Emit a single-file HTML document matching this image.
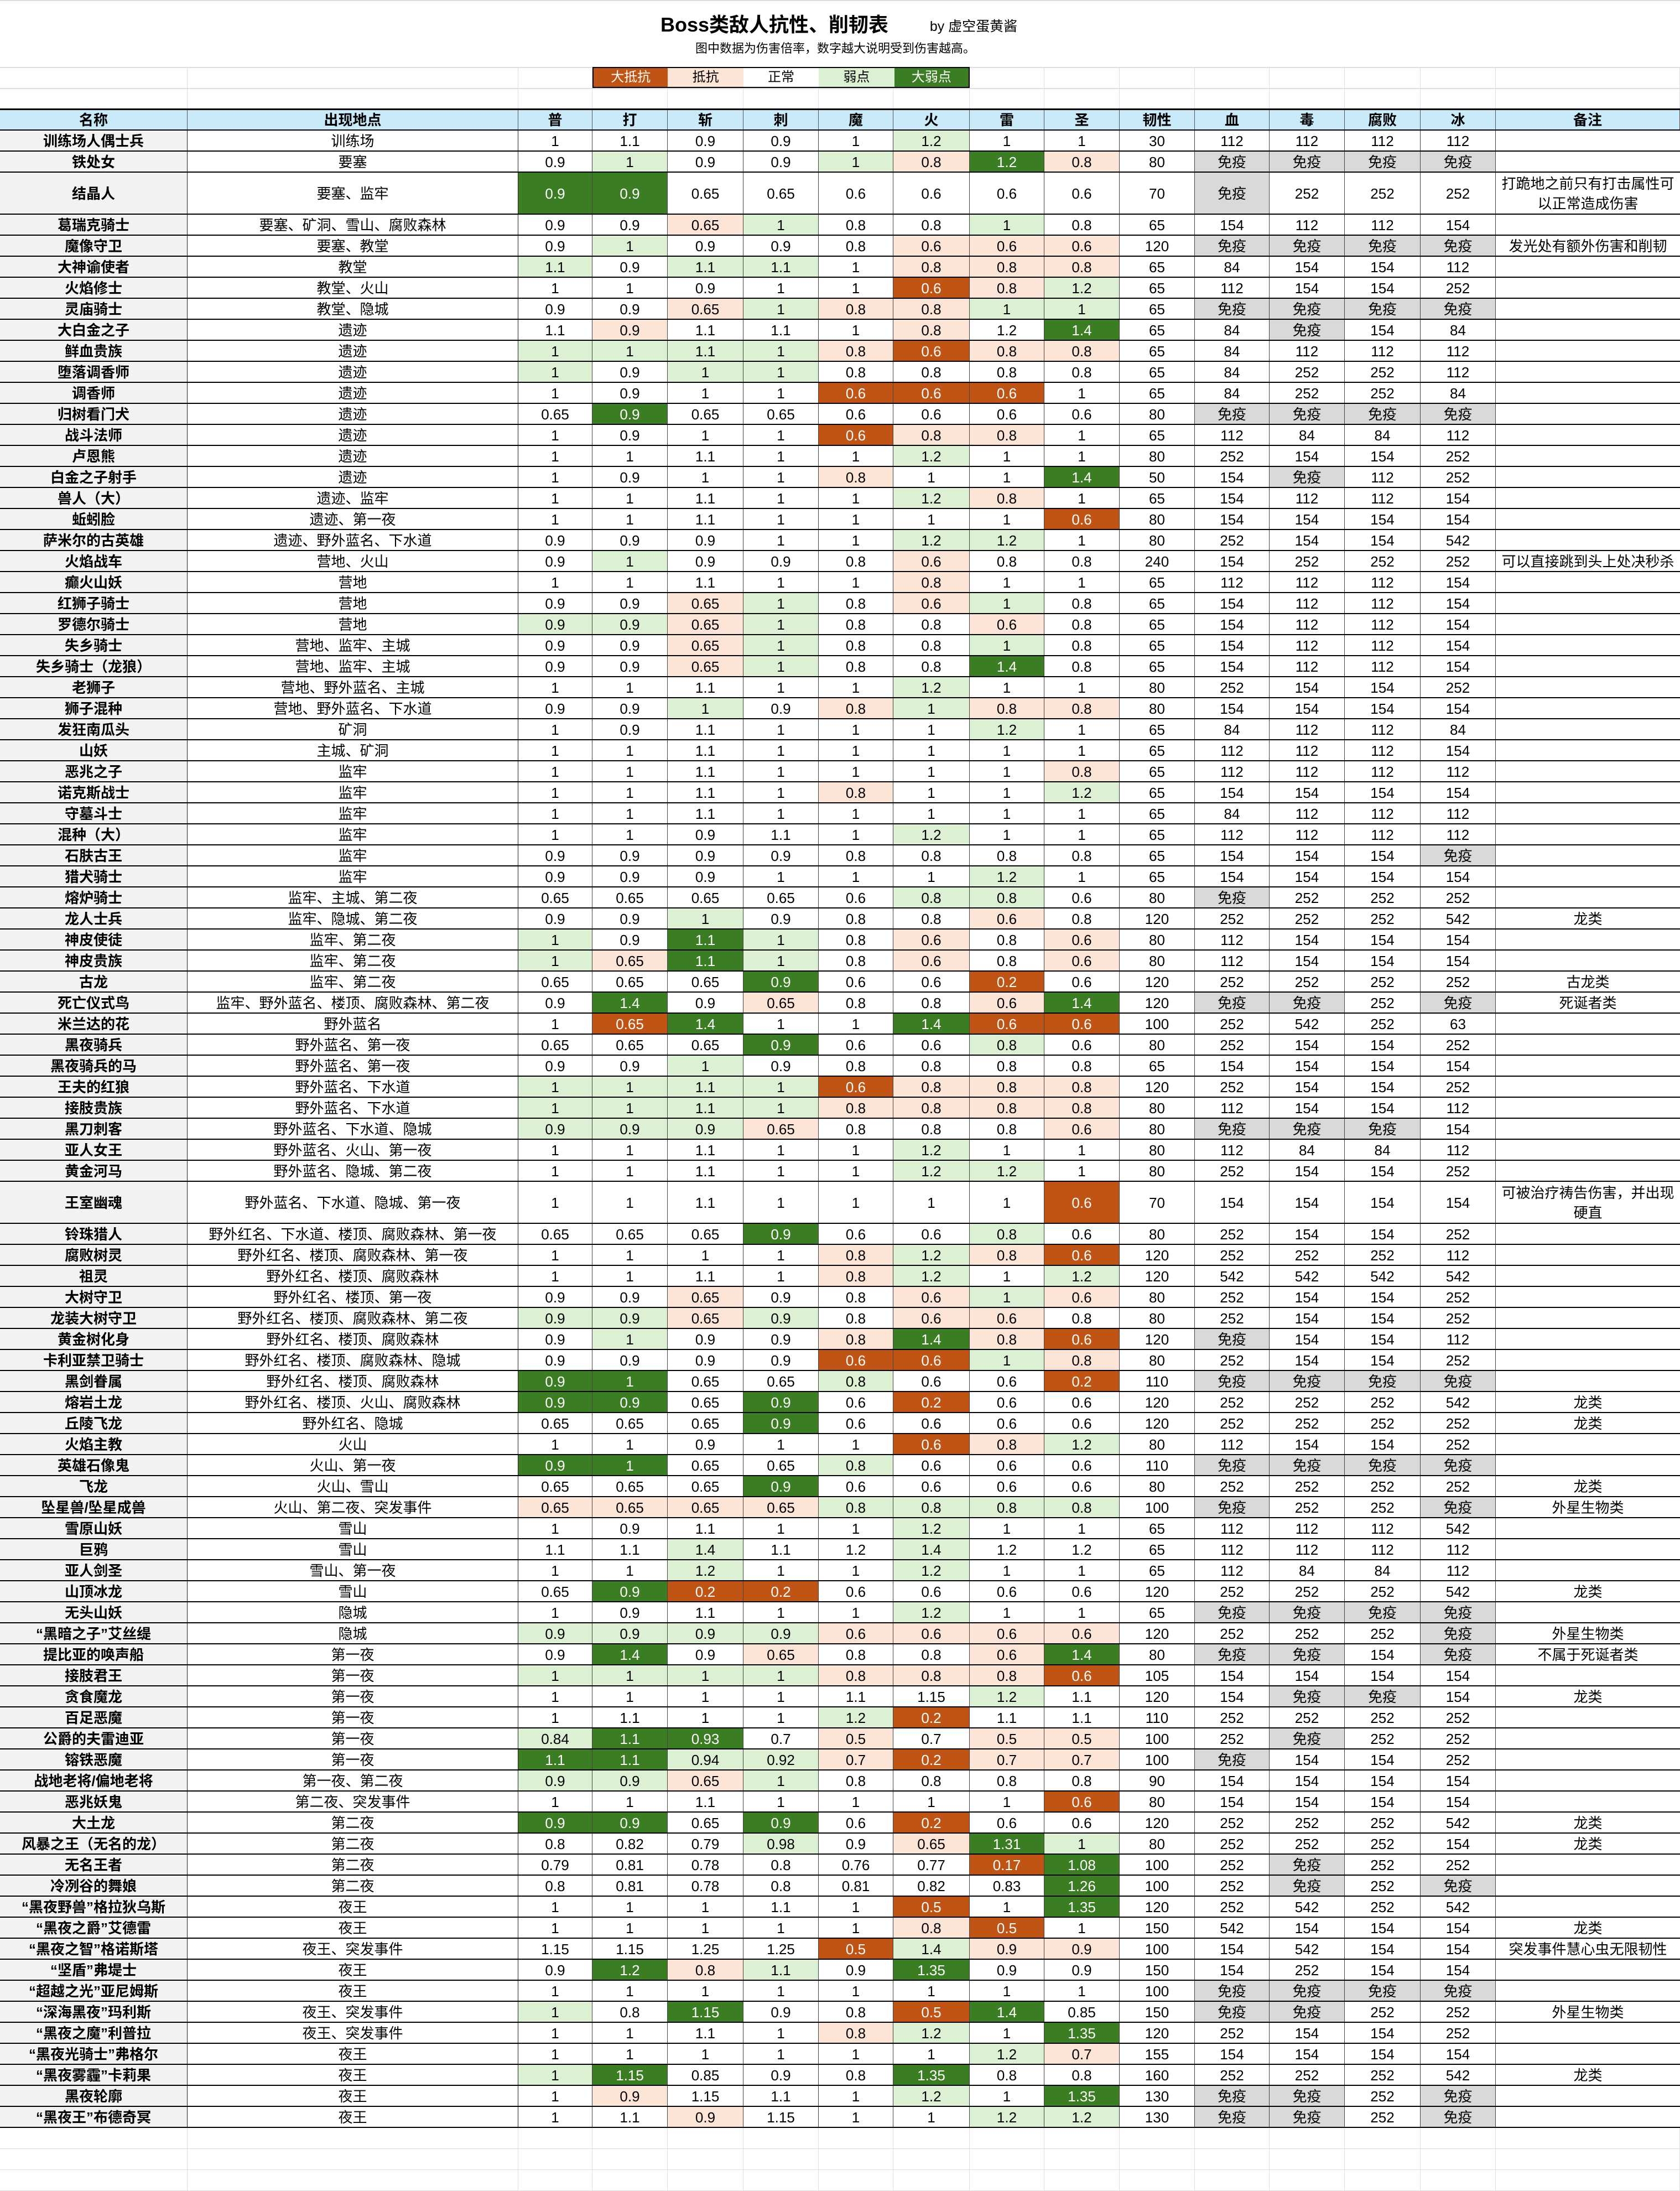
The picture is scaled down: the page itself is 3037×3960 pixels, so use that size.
<!DOCTYPE html>
<html><head><meta charset="utf-8">
<style>
*{margin:0;padding:0;box-sizing:border-box}
body{width:3037px;height:3960px;background:#fff;position:relative;overflow:hidden;font-family:"Liberation Sans","Noto Sans CJK SC",sans-serif;color:#000}
.c{position:absolute;display:flex;align-items:center;justify-content:center;text-align:center;font-size:26px;line-height:30px;overflow:hidden}
.gl{position:absolute;background:#dedede}
</style></head>
<body>
<div class="c" style="left:1150px;top:20px;width:500px;height:50px;font-size:36px;font-weight:bold">Boss类敌人抗性、削韧表</div>
<div class="c" style="left:1660px;top:28px;width:200px;height:40px;font-size:25px">by 虚空蛋黄酱</div>
<div class="c" style="left:1200px;top:72px;width:620px;height:32px;font-size:22px">图中数据为伤害倍率，数字越大说明受到伤害越高。</div>
<div id="root"></div>
<script>
const cols=[0,339,937,1071,1207,1344,1480,1615,1753,1888,2024,2160,2295,2431,2568,2704,3037];
const headers=["名称","出现地点","普","打","斩","刺","魔","火","雷","圣","韧性","血","毒","腐败","冰","备注"];
const legendLabels=["大抵抗","抵抗","正常","弱点","大弱点"];
const colorMap={"0":"#ffffff","p":"#fce4d6","g":"#dcf1d3","G":"#3a7d22","O":"#c05414"};
const rows=[
"训练场人偶士兵|训练场|1 1.1 0.9 0.9 1 1.2 1 1|00000g00|30|112 112 112 112||1",
"铁处女|要塞|0.9 1 0.9 0.9 1 0.8 1.2 0.8|0g00gpGp|80|免疫 免疫 免疫 免疫||1",
"结晶人|要塞、监牢|0.9 0.9 0.65 0.65 0.6 0.6 0.6 0.6|GG000000|70|免疫 252 252 252|打跪地之前只有打击属性可以正常造成伤害|2",
"葛瑞克骑士|要塞、矿洞、雪山、腐败森林|0.9 0.9 0.65 1 0.8 0.8 1 0.8|00pg00g0|65|154 112 112 154||1",
"魔像守卫|要塞、教堂|0.9 1 0.9 0.9 0.8 0.6 0.6 0.6|0g000ppp|120|免疫 免疫 免疫 免疫|发光处有额外伤害和削韧|1",
"大神谕使者|教堂|1.1 0.9 1.1 1.1 1 0.8 0.8 0.8|g0gg0ppp|65|84 154 154 112||1",
"火焰修士|教堂、火山|1 1 0.9 1 1 0.6 0.8 1.2|00000Opg|65|112 154 154 252||1",
"灵庙骑士|教堂、隐城|0.9 0.9 0.65 1 0.8 0.8 1 1|00pgppgg|65|免疫 免疫 免疫 免疫||1",
"大白金之子|遗迹|1.1 0.9 1.1 1.1 1 0.8 1.2 1.4|0p000p0G|65|84 免疫 154 84||1",
"鲜血贵族|遗迹|1 1 1.1 1 0.8 0.6 0.8 0.8|ggggpOpp|65|84 112 112 112||1",
"堕落调香师|遗迹|1 0.9 1 1 0.8 0.8 0.8 0.8|g0gg0000|65|84 252 252 112||1",
"调香师|遗迹|1 0.9 1 1 0.6 0.6 0.6 1|0000OOO0|65|84 252 252 84||1",
"归树看门犬|遗迹|0.65 0.9 0.65 0.65 0.6 0.6 0.6 0.6|0G000000|80|免疫 免疫 免疫 免疫||1",
"战斗法师|遗迹|1 0.9 1 1 0.6 0.8 0.8 1|0000Opp0|65|112 84 84 112||1",
"卢恩熊|遗迹|1 1 1.1 1 1 1.2 1 1|00000g00|80|252 154 154 252||1",
"白金之子射手|遗迹|1 0.9 1 1 0.8 1 1 1.4|0000p00G|50|154 免疫 112 252||1",
"兽人（大）|遗迹、监牢|1 1 1.1 1 1 1.2 0.8 1|00000gp0|65|154 112 112 154||1",
"蚯蚓脸|遗迹、第一夜|1 1 1.1 1 1 1 1 0.6|0000000O|80|154 154 154 154||1",
"萨米尔的古英雄|遗迹、野外蓝名、下水道|0.9 0.9 0.9 1 1 1.2 1.2 1|00000gg0|80|252 154 154 542||1",
"火焰战车|营地、火山|0.9 1 0.9 0.9 0.8 0.6 0.8 0.8|0g000p00|240|154 252 252 252|可以直接跳到头上处决秒杀|1",
"癫火山妖|营地|1 1 1.1 1 1 0.8 1 1|00000p00|65|112 112 112 154||1",
"红狮子骑士|营地|0.9 0.9 0.65 1 0.8 0.6 1 0.8|00pg0pg0|65|154 112 112 154||1",
"罗德尔骑士|营地|0.9 0.9 0.65 1 0.8 0.8 0.6 0.8|ggpg00p0|65|154 112 112 154||1",
"失乡骑士|营地、监牢、主城|0.9 0.9 0.65 1 0.8 0.8 1 0.8|00pg00g0|65|154 112 112 154||1",
"失乡骑士（龙狼）|营地、监牢、主城|0.9 0.9 0.65 1 0.8 0.8 1.4 0.8|00pg00G0|65|154 112 112 154||1",
"老狮子|营地、野外蓝名、主城|1 1 1.1 1 1 1.2 1 1|00000g00|80|252 154 154 252||1",
"狮子混种|营地、野外蓝名、下水道|0.9 0.9 1 0.9 0.8 1 0.8 0.8|00g0pgpp|80|154 154 154 154||1",
"发狂南瓜头|矿洞|1 0.9 1.1 1 1 1 1.2 1|000000g0|65|84 112 112 84||1",
"山妖|主城、矿洞|1 1 1.1 1 1 1 1 1|00000000|65|112 112 112 154||1",
"恶兆之子|监牢|1 1 1.1 1 1 1 1 0.8|0000000p|65|112 112 112 112||1",
"诺克斯战士|监牢|1 1 1.1 1 0.8 1 1 1.2|0000p00g|65|154 154 154 154||1",
"守墓斗士|监牢|1 1 1.1 1 1 1 1 1|00000000|65|84 112 112 112||1",
"混种（大）|监牢|1 1 0.9 1.1 1 1.2 1 1|00000g00|65|112 112 112 112||1",
"石肤古王|监牢|0.9 0.9 0.9 0.9 0.8 0.8 0.8 0.8|00000000|65|154 154 154 免疫||1",
"猎犬骑士|监牢|0.9 0.9 0.9 1 1 1 1.2 1|000000g0|65|154 154 154 154||1",
"熔炉骑士|监牢、主城、第二夜|0.65 0.65 0.65 0.65 0.6 0.8 0.8 0.6|00000gg0|80|免疫 252 252 252||1",
"龙人士兵|监牢、隐城、第二夜|0.9 0.9 1 0.9 0.8 0.8 0.6 0.8|00g000p0|120|252 252 252 542|龙类|1",
"神皮使徒|监牢、第二夜|1 0.9 1.1 1 0.8 0.6 0.8 0.6|g0Gg0p0p|80|112 154 154 154||1",
"神皮贵族|监牢、第二夜|1 0.65 1.1 1 0.8 0.6 0.8 0.6|gpGg0p0p|80|112 154 154 154||1",
"古龙|监牢、第二夜|0.65 0.65 0.65 0.9 0.6 0.6 0.2 0.6|000G00O0|120|252 252 252 252|古龙类|1",
"死亡仪式鸟|监牢、野外蓝名、楼顶、腐败森林、第二夜|0.9 1.4 0.9 0.65 0.8 0.8 0.6 1.4|0G0p00pG|120|免疫 免疫 252 免疫|死诞者类|1",
"米兰达的花|野外蓝名|1 0.65 1.4 1 1 1.4 0.6 0.6|0OG00GOO|100|252 542 252 63||1",
"黑夜骑兵|野外蓝名、第一夜|0.65 0.65 0.65 0.9 0.6 0.6 0.8 0.6|000G00g0|80|252 154 154 252||1",
"黑夜骑兵的马|野外蓝名、第一夜|0.9 0.9 1 0.9 0.8 0.8 0.8 0.8|00g00000|65|154 154 154 154||1",
"王夫的红狼|野外蓝名、下水道|1 1 1.1 1 0.6 0.8 0.8 0.8|ggggOppp|120|252 154 154 252||1",
"接肢贵族|野外蓝名、下水道|1 1 1.1 1 0.8 0.8 0.8 0.8|ggggpppp|80|112 154 154 112||1",
"黑刀刺客|野外蓝名、下水道、隐城|0.9 0.9 0.9 0.65 0.8 0.8 0.8 0.6|gggp000p|80|免疫 免疫 免疫 154||1",
"亚人女王|野外蓝名、火山、第一夜|1 1 1.1 1 1 1.2 1 1|00000g00|80|112 84 84 112||1",
"黄金河马|野外蓝名、隐城、第二夜|1 1 1.1 1 1 1.2 1.2 1|00000gg0|80|252 154 154 252||1",
"王室幽魂|野外蓝名、下水道、隐城、第一夜|1 1 1.1 1 1 1 1 0.6|0000000O|70|154 154 154 154|可被治疗祷告伤害，并出现硬直|2",
"铃珠猎人|野外红名、下水道、楼顶、腐败森林、第一夜|0.65 0.65 0.65 0.9 0.6 0.6 0.8 0.6|000G00g0|80|252 154 154 252||1",
"腐败树灵|野外红名、楼顶、腐败森林、第一夜|1 1 1 1 0.8 1.2 0.8 0.6|0000pgpO|120|252 252 252 112||1",
"祖灵|野外红名、楼顶、腐败森林|1 1 1.1 1 0.8 1.2 1 1.2|0000pg0g|120|542 542 542 542||1",
"大树守卫|野外红名、楼顶、第一夜|0.9 0.9 0.65 0.9 0.8 0.6 1 0.6|00p00pgp|80|252 154 154 252||1",
"龙装大树守卫|野外红名、楼顶、腐败森林、第二夜|0.9 0.9 0.65 0.9 0.8 0.6 0.6 0.8|ggpg0pp0|80|252 154 154 252||1",
"黄金树化身|野外红名、楼顶、腐败森林|0.9 1 0.9 0.9 0.8 1.4 0.8 0.6|0g00pGpO|120|免疫 154 154 112||1",
"卡利亚禁卫骑士|野外红名、楼顶、腐败森林、隐城|0.9 0.9 0.9 0.9 0.6 0.6 1 0.8|0000OOgp|80|252 154 154 252||1",
"黑剑眷属|野外红名、楼顶、腐败森林|0.9 1 0.65 0.65 0.8 0.6 0.6 0.2|GG00g00O|110|免疫 免疫 免疫 免疫||1",
"熔岩土龙|野外红名、楼顶、火山、腐败森林|0.9 0.9 0.65 0.9 0.6 0.2 0.6 0.6|GG0G0O00|120|252 252 252 542|龙类|1",
"丘陵飞龙|野外红名、隐城|0.65 0.65 0.65 0.9 0.6 0.6 0.6 0.6|000G0000|120|252 252 252 252|龙类|1",
"火焰主教|火山|1 1 0.9 1 1 0.6 0.8 1.2|00000Opg|80|112 154 154 252||1",
"英雄石像鬼|火山、第一夜|0.9 1 0.65 0.65 0.8 0.6 0.6 0.6|GG00g000|110|免疫 免疫 免疫 免疫||1",
"飞龙|火山、雪山|0.65 0.65 0.65 0.9 0.6 0.6 0.6 0.6|000G0000|80|252 252 252 252|龙类|1",
"坠星兽/坠星成兽|火山、第二夜、突发事件|0.65 0.65 0.65 0.65 0.8 0.8 0.8 0.8|ppppgggg|100|免疫 252 252 免疫|外星生物类|1",
"雪原山妖|雪山|1 0.9 1.1 1 1 1.2 1 1|00000g00|65|112 112 112 542||1",
"巨鸦|雪山|1.1 1.1 1.4 1.1 1.2 1.4 1.2 1.2|00g00g00|65|112 112 112 112||1",
"亚人剑圣|雪山、第一夜|1 1 1.2 1 1 1.2 1 1|00g00g00|65|112 84 84 112||1",
"山顶冰龙|雪山|0.65 0.9 0.2 0.2 0.6 0.6 0.6 0.6|0GOO0000|120|252 252 252 542|龙类|1",
"无头山妖|隐城|1 0.9 1.1 1 1 1.2 1 1|00000g00|65|免疫 免疫 免疫 免疫||1",
"“黑暗之子”艾丝缇|隐城|0.9 0.9 0.9 0.9 0.6 0.6 0.6 0.6|ggggpppp|120|252 252 252 免疫|外星生物类|1",
"提比亚的唤声船|第一夜|0.9 1.4 0.9 0.65 0.8 0.8 0.6 1.4|0G0p00pG|80|免疫 免疫 154 免疫|不属于死诞者类|1",
"接肢君王|第一夜|1 1 1 1 0.8 0.8 0.8 0.6|ggggpppO|105|154 154 154 154||1",
"贪食魔龙|第一夜|1 1 1 1 1.1 1.15 1.2 1.1|000000g0|120|154 免疫 免疫 154|龙类|1",
"百足恶魔|第一夜|1 1.1 1 1 1.2 0.2 1.1 1.1|0000gO00|110|252 252 252 252||1",
"公爵的夫雷迪亚|第一夜|0.84 1.1 0.93 0.7 0.5 0.7 0.5 0.5|gGG0p0pp|100|252 免疫 252 252||1",
"镕铁恶魔|第一夜|1.1 1.1 0.94 0.92 0.7 0.2 0.7 0.7|GGggpOpp|100|免疫 154 154 252||1",
"战地老将/偏地老将|第一夜、第二夜|0.9 0.9 0.65 1 0.8 0.8 0.8 0.8|ggpg0000|90|154 154 154 154||1",
"恶兆妖鬼|第二夜、突发事件|1 1 1.1 1 1 1 1 0.6|0000000O|80|154 154 154 154||1",
"大土龙|第二夜|0.9 0.9 0.65 0.9 0.6 0.2 0.6 0.6|GG0G0O00|120|252 252 252 542|龙类|1",
"风暴之王（无名的龙）|第二夜|0.8 0.82 0.79 0.98 0.9 0.65 1.31 1|000g0pGg|80|252 252 252 154|龙类|1",
"无名王者|第二夜|0.79 0.81 0.78 0.8 0.76 0.77 0.17 1.08|000000OG|100|252 免疫 252 252||1",
"冷冽谷的舞娘|第二夜|0.8 0.81 0.78 0.8 0.81 0.82 0.83 1.26|0000000G|100|252 免疫 252 免疫||1",
"“黑夜野兽”格拉狄乌斯|夜王|1 1 1 1.1 1 0.5 1 1.35|00000O0G|120|252 542 252 542||1",
"“黑夜之爵”艾德雷|夜王|1 1 1 1 1 0.8 0.5 1|00000pO0|150|542 154 154 154|龙类|1",
"“黑夜之智”格诺斯塔|夜王、突发事件|1.15 1.15 1.25 1.25 0.5 1.4 0.9 0.9|0000Ogpp|100|154 542 154 154|突发事件慧心虫无限韧性|1",
"“坚盾”弗堤士|夜王|0.9 1.2 0.8 1.1 0.9 1.35 0.9 0.9|0Gpg0G00|150|154 252 154 154||1",
"“超越之光”亚尼姆斯|夜王|1 1 1 1 1 1 1 1|00000000|100|免疫 免疫 免疫 免疫||1",
"“深海黑夜”玛利斯|夜王、突发事件|1 0.8 1.15 0.9 0.8 0.5 1.4 0.85|g0G00OG0|150|免疫 免疫 252 252|外星生物类|1",
"“黑夜之魔”利普拉|夜王、突发事件|1 1 1.1 1 0.8 1.2 1 1.35|0000pg0G|120|252 154 154 252||1",
"“黑夜光骑士”弗格尔|夜王|1 1 1 1 1 1 1.2 0.7|000000gp|155|154 154 154 154||1",
"“黑夜雾霾”卡莉果|夜王|1 1.15 0.85 0.9 0.8 1.35 0.8 0.8|gG000G00|160|252 252 252 542|龙类|1",
"黑夜轮廓|夜王|1 0.9 1.15 1.1 1 1.2 1 1.35|0p000g0G|130|免疫 免疫 252 免疫||1",
"“黑夜王”布德奇冥|夜王|1 1.1 0.9 1.15 1 1 1.2 1.2|00p000gg|130|免疫 免疫 252 免疫||1"
];
const root=document.getElementById('root');
function cell(x,y,w,h,txt,style){
  const d=document.createElement('div');
  d.className='c';
  d.style.cssText=`left:${x}px;top:${y}px;width:${w}px;height:${h}px;`+(style||'');
  d.textContent=txt;
  root.appendChild(d);
  return d;
}
function line(x,y,w,h,col){
  const d=document.createElement('div');
  d.className='gl';
  d.style.cssText=`left:${x}px;top:${y}px;width:${w}px;height:${h}px;`+(col?`background:${col};`:'');
  
  
  root.appendChild(d);
}
const RH=38, TOP=235, HEAD_Y=197;
// light background grid lines
line(0,0,3037,2);
line(0,121,3037,2);
line(0,159,3037,2);
for(let i=0;i<cols.length;i++){ line(cols[i]-1,121,1,76); }
let endY=TOP; rows.forEach(r=>{endY+=RH*(+r.split('|')[7]);});
for(let y=endY+RH;y<3960;y+=RH) line(0,y,3037,1);
for(let i=0;i<cols.length;i++){ line(cols[i]-1,endY,1,3960-endY); }
// legend
const legendBg=["#c05414","#fce4d6","#ffffff","#dcf1d3","#3a7d22"];
const legendFg=["#fff","#000","#000","#000","#fff"];
legendLabels.forEach((t,i)=>{
  const d=cell(1071+i*136.4,121,136.4,38,t,`background:${legendBg[i]};color:${legendFg[i]};font-size:24px;border-top:2px solid #000;border-bottom:2px solid #000;`+(i==0?'border-left:2px solid #000;':'')+(i==4?'border-right:2px solid #000;':''));
  
  
});
// header
line(0,HEAD_Y-1,3037,3,'#000');
headers.forEach((h,i)=>{
  const d=cell(cols[i],HEAD_Y+2,cols[i+1]-cols[i],TOP-HEAD_Y-2,h,'background:#c8eaf9;font-weight:bold;border-right:1px solid #555;');
  
  
});
// rows
let y=TOP;
rows.forEach((r,ri)=>{
  const f=r.split('|');
  const h=RH*(+f[7]);
  line(0,y-1,3037,2,'#000');
  const nm=cell(cols[0],y+1,cols[1]-cols[0],h-1,f[0],'background:#f2f2f2;font-weight:bold;border-right:1px solid #222;');
  
  
  const lc=cell(cols[1],y+1,cols[2]-cols[1],h-1,f[1],'border-right:1px solid #222;');
  
  
  const vals=f[2].split(' ');
  vals.forEach((v,k)=>{
    const code=f[3][k];
    const dark=(code=='G'||code=='O');
    const c=cell(cols[2+k],y+1,cols[3+k]-cols[2+k],h-1,v,`background:${colorMap[code]};color:${dark?'#fff':'#000'};border-right:1px solid #444;`);
    
    
  });
  const t=cell(cols[10],y+1,cols[11]-cols[10],h-1,f[4],'border-right:1px solid #444;');
  
  
  f[5].split(' ').forEach((v,k)=>{
    const imm=v=='免疫';
    const c=cell(cols[11+k],y+1,cols[12+k]-cols[11+k],h-1,v,(imm?'background:#d9d9d9;':'')+'border-right:1px solid #444;');
    
    
  });
  const rm=cell(cols[15],y+1,cols[16]-cols[15],h-1,f[6],'padding:0 4px;line-height:36px;');
  
  
  y+=h;
});
line(0,y-1,3037,2,'#000');
</script>
</body></html>
